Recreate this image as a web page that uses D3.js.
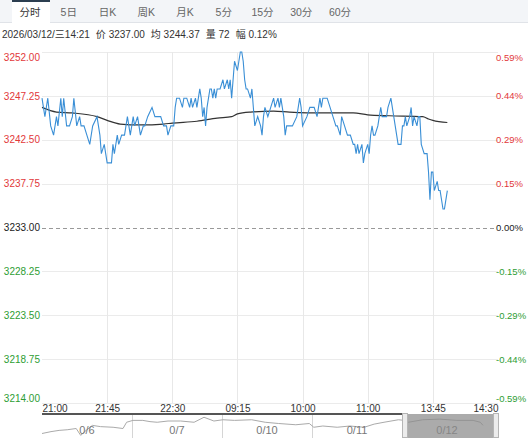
<!DOCTYPE html>
<html>
<head>
<meta charset="utf-8">
<script src="https://cdn.jsdelivr.net/npm/d3@7/dist/d3.min.js"></script>
<style>
body { margin: 0; background: #fff; }
svg { display: block; font-family: "Liberation Sans", Arial, "Noto Sans CJK SC", sans-serif; }
</style>
</head>
<body>
<svg id="chart" width="528" height="438"></svg>
<script>
// ---- data ----
var tabs = ["分时", "5日", "日K", "周K", "月K", "5分", "15分", "30分", "60分"];
var headerItems = ["2026/03/12/三14:21", "价 3237.00", "均 3244.37", "量 72", "幅 0.12%"];
var prevClose = 3233;
var yTicks = [3252, 3247.25, 3242.5, 3237.75, 3233, 3228.25, 3223.5, 3218.75, 3214];
var timeTicks = [0, 45, 90, 135, 180, 225, 270, 315];        // trading minutes from 21:00
var timeLabels = ["21:00", "21:45", "22:30", "09:15", "10:00", "11:00", "13:45", "14:30"];

// [trading minute, price]
var lastPrice = [[0,3247],[2,3245],[4,3247],[6,3244],[8,3243],[10,3245],[11,3244],[13,3247],[14,3245],[15,3247],
  [17,3244],[19,3244],[21,3245],[22,3247],[24,3244],[26,3245],[27,3244],[29,3244],[31,3243],[33,3242],
  [35,3244],[38,3245],[39,3244],[40,3243],[41,3241],[43,3242],[44,3241],[45,3240],[48,3240],[49,3242],
  [50,3241],[52,3243],[53,3242],[55,3243],[57,3243],[58,3244],[59,3245],[61,3243],[63,3245],[64,3244],
  [66,3245],[68,3243],[70,3244],[71,3244],[73,3245],[76,3246],[78,3245],[80,3245],[82,3245],[84,3244],
  [86,3244],[87,3243],[89,3244],[90,3244],[91,3244],[92,3246],[93,3247],[95,3247],[97,3246],[98,3247],
  [100,3247],[102,3246],[103,3247],[104,3246],[106,3247],[107,3246],[109,3248],[110,3247],[111,3245],[112,3246],
  [113,3244],[114,3246],[116,3248],[117,3248],[118,3247],[119,3248],[120,3247],[121,3248],[123,3248],[125,3249],
  [126,3248],[128,3249],[129,3248],[130,3249],[131,3247],[132,3249],[133,3251],[135,3250],[137,3252],[138,3252],
  [139,3251],[140,3249],[141,3248],[142,3248],[144,3247],[145,3248],[146,3246],[147,3244],[149,3245],[151,3244],
  [152,3243],[153,3245],[154,3246],[156,3245],[158,3246],[160,3247],[161,3246],[163,3247],[164,3246],[165,3247],
  [166,3246],[167,3245],[168,3243],[169,3244],[173,3244],[176,3245],[178,3247],[179,3246],[180,3244],[183,3245],
  [185,3246],[188,3246],[190,3245],[192,3247],[193,3246],[194,3247],[197,3247],[199,3246],[201,3245],[203,3244],
  [204,3244],[206,3243],[207,3245],[209,3244],[211,3243],[213,3243],[215,3242],[216,3242],[217,3241],[218,3242],
  [219,3241],[221,3242],[222,3240],[223,3241],[225,3242],[226,3241],[227,3243],[228,3244],[229,3243],[230,3243],
  [232,3244],[234,3246],[235,3245],[236,3245],[238,3245],[239,3246],[241,3247],[242,3246],[243,3245],[244,3244],
  [245,3243],[246,3242],[248,3242],[249,3244],[250,3244],[251,3245],[252,3244],[254,3245],[255,3246],[256,3244],
  [257,3245],[259,3244],[260,3245],[261,3245],[262,3242],[264,3241],[266,3241],[267,3239],[268,3236],[269,3239],
  [270,3239],[271,3237],[273,3238],[274,3237],[275,3237],[276,3236],[277,3235],[278,3235],[280,3237]];

// [trading minute, average price]
var avgPrice = [[0,3246.0],[10,3245.5],[21,3245.4],[38,3245.0],[45,3244.6],[54,3244.2],[68,3244.1],[84,3244.2],
  [90,3244.3],[107,3244.5],[121,3244.85],[131,3245.0],[135,3245.3],[144,3245.5],[160,3245.6],[171,3245.5],
  [194,3245.4],[215,3245.4],[225,3245.2],[240,3245.1],[263,3245.0],[267,3244.75],[270,3244.6],[280,3244.37]];

// navigator: five sessions
var navDays = ["0/6", "0/7", "0/10", "0/11", "0/12"];
// [session position, price]
var navPrice = [[0,3224],[0.1,3227],[0.19,3229],[0.28,3230],[0.38,3232],[0.43,3221],[0.49,3229],[0.56,3237],
  [0.65,3235],[0.79,3234],[0.9,3232],[0.94,3242],[1.01,3245],[1.12,3245],[1.2,3243],[1.28,3242],[1.4,3244],
  [1.54,3244],[1.69,3242],[1.8,3250],[1.91,3244],[2.01,3246],[2.14,3245],[2.33,3246],[2.48,3242],[2.63,3240],
  [2.82,3238],[2.97,3240],[3.02,3234],[3.12,3236],[3.28,3234],[3.42,3236],[3.58,3234],[3.69,3239],[3.8,3242],
  [3.96,3246],[4.03,3245],[4.07,3242],[4.23,3246],[4.42,3247],[4.61,3245],[4.79,3245],[4.87,3242],[4.9,3237]];

// ---- layout ----
var svg = d3.select("#chart");
var plotL = 42, plotR = 498, plotT = 52, plotB = 403;
var red = "#e2383a", green = "#2e9d33";

var x = d3.scaleLinear().domain([0, 315]).range([plotL, plotR]);
var y = d3.scaleLinear().domain([3214, 3252]).range([plotB, plotT]);

// tab bar
svg.append("rect").attr("x", 0).attr("y", 0).attr("width", 528).attr("height", 22).style("fill", "#f3f5f8");
svg.append("line").attr("x1", 0).attr("x2", 528).attr("y1", 22.5).attr("y2", 22.5).style("stroke", "#e0e3e8");
var tabX = d3.scalePoint().domain(tabs).range([30, 340]);
svg.append("rect").attr("x", 12).attr("y", 0).attr("width", 38).attr("height", 23).style("fill", "#fff");
svg.append("line").attr("x1", 12).attr("x2", 50).attr("y1", 1).attr("y2", 1)
    .style("stroke", "#2c3e50").style("stroke-width", 2);
svg.selectAll(".tab")
    .data(tabs)
    .enter()
    .append("text")
    .attr("class", "tab")
    .attr("x", function (d) { return tabX(d) })
    .attr("y", 16)
    .attr("text-anchor", "middle")
    .style("font-size", "10.5px")
    .style("fill", function (d, i) { return i == 0 ? "#333" : "#666" })
    .text(function (d) { return d });

// header info line, each item placed after the previous one
var infoX = 2;
svg.selectAll(".info")
    .data(headerItems)
    .enter()
    .append("text")
    .attr("class", "info")
    .attr("y", 38)
    .style("font-size", "10px")
    .style("fill", "#333")
    .text(function (d) { return d })
    .each(function () {
        d3.select(this).attr("x", infoX);
        infoX += this.getComputedTextLength() + 6;
    });

// grid
svg.selectAll(".hgrid")
    .data(yTicks.filter(function (d) { return d != prevClose }))
    .enter()
    .append("line")
    .attr("class", "hgrid")
    .attr("x1", plotL).attr("x2", plotR)
    .attr("y1", function (d) { return Math.round(y(d)) + 0.5 })
    .attr("y2", function (d) { return Math.round(y(d)) + 0.5 })
    .style("stroke", "#ebebeb");

svg.selectAll(".vgrid")
    .data(timeTicks.slice(1, -1))
    .enter()
    .append("line")
    .attr("class", "vgrid")
    .attr("x1", function (d) { return Math.round(x(d)) + 0.5 })
    .attr("x2", function (d) { return Math.round(x(d)) + 0.5 })
    .attr("y1", plotT).attr("y2", plotB)
    .style("stroke", "#e8e8e8");

svg.append("line")
    .attr("x1", plotL).attr("x2", plotR - 3)
    .attr("y1", Math.round(y(prevClose)) + 0.5).attr("y2", Math.round(y(prevClose)) + 0.5)
    .style("stroke", "#999").style("stroke-dasharray", "4,3");

// axes
function colorFor(d) {
    return d > prevClose ? red : (d < prevClose ? green : "#222");
}
function edgeShift(d) {
    return d == 3252 ? 5 : (d == 3214 ? -5 : 0);
}

var leftAxis = svg.append("g")
    .attr("transform", "translate(" + plotL + ",0)")
    .call(d3.axisLeft(y).tickValues(yTicks).tickSize(0).tickPadding(2)
        .tickFormat(function (d) { return d.toFixed(2) }));
var rightAxis = svg.append("g")
    .attr("transform", "translate(" + plotR + ",0)")
    .call(d3.axisRight(y).tickValues(yTicks).tickSize(0).tickPadding(-2)
        .tickFormat(function (d) { return ((d - prevClose) / prevClose * 100).toFixed(2) + "%" }));
leftAxis.selectAll("text").style("font-size", "10px");
rightAxis.selectAll("text").style("font-size", "9.5px");
[leftAxis, rightAxis].forEach(function (ax) {
    ax.select(".domain").remove();
    ax.selectAll("text")
        .style("font-family", "Liberation Sans, Arial, sans-serif")
        .style("fill", colorFor)
        .attr("transform", function (d) { return "translate(0," + edgeShift(d) + ")" });
});

var bottomAxis = svg.append("g")
    .attr("transform", "translate(0," + plotB + ")")
    .call(d3.axisBottom(x).tickValues(timeTicks).tickSize(0).tickPadding(2)
        .tickFormat(function (d, i) { return timeLabels[i] }));
bottomAxis.select(".domain").remove();
bottomAxis.selectAll("text")
    .style("font-size", "10px")
    .style("font-family", "Liberation Sans, Arial, sans-serif")
    .style("fill", "#333")
    .attr("text-anchor", function (d, i) { return i == 0 ? "start" : (i == timeTicks.length - 1 ? "end" : "middle") });

// price and average lines
var line = d3.line()
    .x(function (d) { return x(d[0]) })
    .y(function (d) { return y(d[1]) });

svg.append("path")
    .datum(avgPrice)
    .attr("d", line.curve(d3.curveMonotoneX))
    .style("fill", "none")
    .style("stroke", "#333")
    .style("stroke-width", 1.2);

svg.append("path")
    .datum(lastPrice)
    .attr("d", line.curve(d3.curveLinear))
    .style("fill", "none")
    .style("stroke", "#3a8fd6")
    .style("stroke-width", 1.1);

// navigator
var navTop = 414, navBot = 438;
var navX = d3.scaleLinear().domain([0, 5]).range([plotL, 492]);
var navY = d3.scaleLinear().domain([3220, 3252]).range([436, 416]);

svg.selectAll(".navsep")
    .data(d3.range(1, navDays.length - 1))
    .enter()
    .append("line")
    .attr("class", "navsep")
    .attr("x1", function (d) { return Math.round(navX(d)) + 0.5 })
    .attr("x2", function (d) { return Math.round(navX(d)) + 0.5 })
    .attr("y1", navTop).attr("y2", navBot)
    .style("stroke", "#d5d5d5");

svg.append("path")
    .datum(navPrice)
    .attr("d", d3.line().x(function (d) { return navX(d[0]) }).y(function (d) { return navY(d[1]) }))
    .style("fill", "none")
    .style("stroke", "#aaa")
    .style("stroke-width", 1);

svg.selectAll(".navday")
    .data(navDays)
    .enter()
    .append("text")
    .attr("class", "navday")
    .attr("x", function (d, i) { return navX(i + 0.5) })
    .attr("y", 434)
    .attr("text-anchor", "middle")
    .style("font-size", "11px")
    .style("fill", "#777")
    .text(function (d) { return d });

var winL = navX(4), winR = plotR;
svg.append("rect")
    .attr("x", winL).attr("y", navTop)
    .attr("width", winR - winL).attr("height", navBot - navTop)
    .style("fill", "#8a8a8a").style("opacity", 0.72);
svg.append("line")
    .attr("x1", plotL).attr("x2", winL).attr("y1", navTop).attr("y2", navTop)
    .style("stroke", "#555").style("stroke-width", 2);
[winL, winR - 5].forEach(function (hx) {
    svg.append("rect")
        .attr("x", hx + 0.5).attr("y", navTop - 1 + 0.5)
        .attr("width", 5).attr("height", navBot - navTop)
        .style("fill", "#ececec").style("stroke", "#b5b5b5");
});
</script>
</body>
</html>
